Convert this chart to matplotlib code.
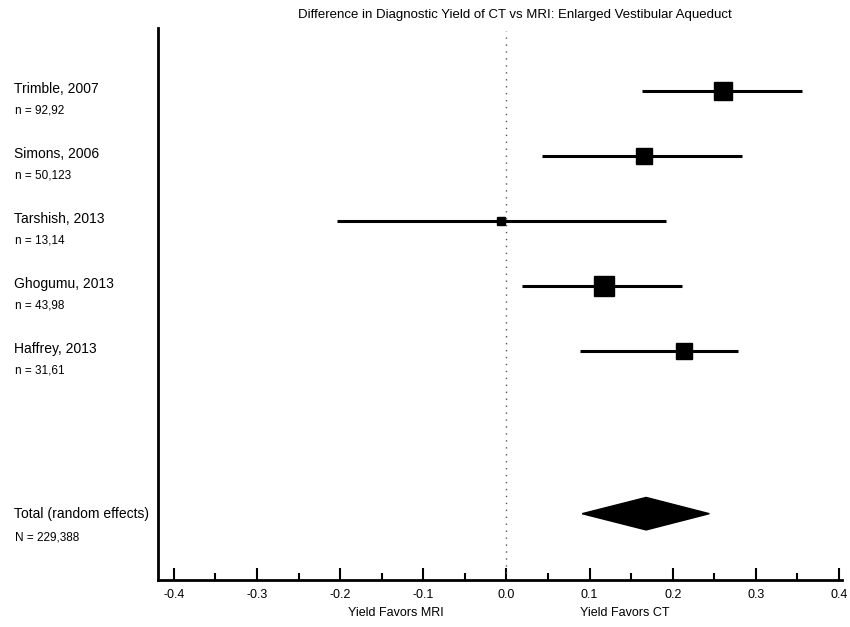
import numpy as np
import matplotlib.pyplot as plt

plt.rcParams['font.family'] = ['Liberation Sans', 'DejaVu Sans']

# study level data
studies = ['Trimble, 2007', 'Simons, 2006', 'Tarshish, 2013', 'Ghogumu, 2013', 'Haffrey, 2013']
n_labels = ['n = 92,92', 'n = 50,123', 'n = 13,14', 'n = 43,98', 'n = 31,61']
estimates = [0.261, 0.165, -0.006, 0.117, 0.213]
ci_low = [0.163, 0.043, -0.204, 0.019, 0.088]
ci_high = [0.356, 0.283, 0.192, 0.211, 0.278]
weights = [27, 19, 5, 30, 19]

# pooled estimate
total_label = 'Total (random effects)'
total_n = 'N = 229,388'
total_est = 0.168
total_low = 0.091
total_high = 0.244

tick_values = [-0.4, -0.3, -0.2, -0.1, 0.0, 0.1, 0.2, 0.3, 0.4]

fig = plt.figure(figsize=(8.5, 6.27), dpi=100)
ax = fig.add_axes([0.186, 0.075, 0.805, 0.88])

rows = np.arange(len(studies))
total_row = 6.5

for y, est, lo, hi, w in zip(rows, estimates, ci_low, ci_high, weights):
    ax.plot([lo, hi], [y, y], color='black', lw=2.2, solid_capstyle='butt')
    ax.plot(est, y, marker='s', color='black', ms=2.5 * np.sqrt(w))

h = 0.25
ax.fill([total_low, total_est, total_high, total_est],
        [total_row, total_row - h, total_row, total_row + h], color='black')

ax.axvline(0, color='#555555', lw=1, ls=(0, (1, 4)), ymax=0.995)

ax.set_xlim(-0.419, 0.404)
ax.set_ylim(7.52, -0.97)

# left labels
lab = ax.get_yaxis_transform()
for y, name, n in zip(rows, studies, n_labels):
    ax.text(-0.2105, y - 0.03, name, transform=lab, fontsize=10, va='center')
    ax.text(-0.209, y + 0.29, n, transform=lab, fontsize=8.5, va='center')
ax.text(-0.2105, total_row, total_label, transform=lab, fontsize=10, va='center')
ax.text(-0.209, total_row + 0.37, total_n, transform=lab, fontsize=8.5, va='center')

ax.spines['top'].set_visible(False)
ax.spines['right'].set_visible(False)
ax.spines['left'].set_linewidth(2)
ax.spines['bottom'].set_linewidth(2)
ax.set_yticks([])

ax.set_xticks(tick_values)
ax.set_xticklabels([f'{v:.1f}' for v in tick_values])
ax.set_xticks(np.arange(-0.35, 0.4, 0.1), minor=True)
ax.tick_params(axis='x', which='major', direction='in', length=9, width=1.5,
               labelsize=9, pad=6.5)
ax.tick_params(axis='x', which='minor', direction='in', length=5, width=1.5)

ax.text(-0.133, -0.06, 'Yield Favors MRI', transform=ax.get_xaxis_transform(),
        ha='center', va='center', fontsize=9)
ax.text(0.142, -0.06, 'Yield Favors CT', transform=ax.get_xaxis_transform(),
        ha='center', va='center', fontsize=9)

fig.text(515 / 850, 1 - 15 / 627,
         'Difference in Diagnostic Yield of CT vs MRI: Enlarged Vestibular Aqueduct',
         ha='center', va='center', fontsize=9.5)

fig.savefig('out.png', dpi=100)
